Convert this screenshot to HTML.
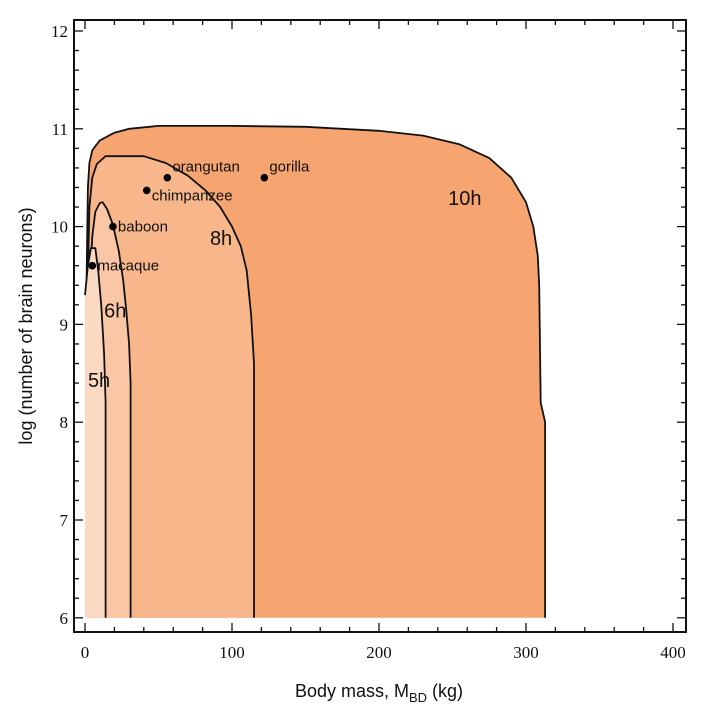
<!DOCTYPE html>
<html><head><meta charset="utf-8">
<style>
html,body{margin:0;padding:0;background:#fff;}
svg{display:block;}
.tick{font-family:"Liberation Serif",serif;font-size:17px;fill:#111;}
.lbl{font-family:"Liberation Sans",sans-serif;font-size:15px;fill:#111;}
.hl{font-family:"Liberation Sans",sans-serif;font-size:20px;fill:#111;}
.ax{font-family:"Liberation Sans",sans-serif;font-size:18px;fill:#111;}
</style></head>
<body>
<svg id="chart" width="720" height="720"></svg>
<script>
const xTicks=[0,100,200,300,400];
const yTicks=[6,7,8,9,10,11,12];
const regionNames=["10h","8h","6h","5h"];
const region10h=[[1,6],[1,9.4],[2,10.4],[3,10.65],[5,10.78],[10,10.88],[20,10.96],[30,11.0],[50,11.03],[100,11.03],[150,11.02],[200,10.98],[230,10.93],[255,10.84],[275,10.7],[290,10.5],[300,10.25],[305,10.0],[308,9.7],[309,9.4],[310,8.2],[313,8.0],[313,6]];
const region8h=[[2,6],[2,9.5],[3,10.2],[5,10.5],[8,10.64],[14,10.72],[40,10.72],[55,10.65],[70,10.52],[82,10.37],[92,10.2],[100,10.0],[106,9.8],[110,9.55],[113,9.1],[115,8.6],[115,6]];
const region6h=[[3,6],[3,9.3],[5,9.9],[7,10.15],[10,10.24],[12,10.25],[15,10.18],[19,10.02],[23,9.75],[26,9.45],[28,9.15],[30,8.8],[31,8.4],[31,6]];
const region5h=[[0,6],[0,9.3],[2,9.6],[4,9.78],[7,9.78],[9,9.55],[11,9.2],[13,8.7],[14,8.2],[14,6]];
const regionColors=["#f6a571","#f8b68b","#fac6a5","#fcd9c3"];
const regionLabelPos=[[247,10.22],[85,9.81],[13,9.07],[2,8.36]];
const species=["macaque","baboon","chimpanzee","orangutan","gorilla"];
const speciesMass=[5,19,42,56,122];
const speciesLogN=[9.6,10.0,10.37,10.5,10.5];

const X0=85,XS=1.47,Y12=31,YS=97.8;
const L=74,R=686,T=20,B=632;
const sx=v=>X0+v*XS, sy=v=>Y12+(12-v)*YS;
const svg=document.getElementById('chart');
const NS='http://www.w3.org/2000/svg';
function mk(tag,attrs,parent){const e=document.createElementNS(NS,tag);for(const k in attrs)e.setAttribute(k,attrs[k]);(parent||svg).appendChild(e);return e;}

const regions=[region10h,region8h,region6h,region5h];
regions.forEach((pts,i)=>{
  const d=pts.map((p,j)=>(j?'L':'M')+sx(p[0]).toFixed(1)+','+sy(p[1]).toFixed(1)).join(' ')+' Z';
  const f=mk('path',{d:d,fill:regionColors[i],stroke:'none'});
  
  
  const ol=pts.slice(1).map((p,j)=>(j?'L':'M')+sx(p[0]).toFixed(1)+','+sy(p[1]).toFixed(1)).join(' ');
  const o=mk('path',{d:ol,fill:'none',stroke:'#111','stroke-width':1.8,'stroke-linejoin':'round'});
  
  
});
regionNames.forEach((n,i)=>{
  const t=mk('text',{x:sx(regionLabelPos[i][0]),y:sy(regionLabelPos[i][1]),class:'hl'});
  t.textContent=n;
  
  
});
species.forEach((s,i)=>{
  const c=mk('circle',{cx:sx(speciesMass[i]),cy:sy(speciesLogN[i]),r:3.8,fill:'#000'});
  
  
  let dx=5,dy=0;
  if(s==='orangutan')dy=-6;
  if(s==='gorilla'){dy=-6;}
  if(s==='chimpanzee')dy=10;
  if(s==='baboon'||s==='macaque')dy=5;
  const t=mk('text',{x:sx(speciesMass[i])+dx,y:sy(speciesLogN[i])+dy,class:'lbl'});
  t.textContent=s;
  
  
});
const fr=mk('rect',{x:L,y:T,width:R-L,height:B-T,fill:'none',stroke:'#111','stroke-width':2});


for(let v=0;v<=400;v+=20){
  const maj=v%100===0,len=maj?9:5;
  mk('line',{x1:sx(v),x2:sx(v),y1:B,y2:B-len,stroke:'#111','stroke-width':1.3});
  mk('line',{x1:sx(v),x2:sx(v),y1:T,y2:T+len,stroke:'#111','stroke-width':1.3});
}
xTicks.forEach(v=>{
  const t=mk('text',{x:sx(v),y:B+26,class:'tick','text-anchor':'middle'});
  t.textContent=v;
  
  
});
for(let k=0;k<=30;k++){
  const v=6+k*0.2;const maj=k%5===0,len=maj?9:5;
  mk('line',{x1:L,x2:L+len,y1:sy(v),y2:sy(v),stroke:'#111','stroke-width':1.3});
  mk('line',{x1:R,x2:R-len,y1:sy(v),y2:sy(v),stroke:'#111','stroke-width':1.3});
}
yTicks.forEach(v=>{
  const t=mk('text',{x:L-6,y:sy(v)+6,class:'tick','text-anchor':'end'});
  t.textContent=v;
  
  
});
</script>
<svg width="720" height="720" style="position:absolute;left:0;top:0;pointer-events:none">
<text x="379" y="697" class="ax" text-anchor="middle">Body mass, M<tspan font-size="13" dy="5">BD</tspan><tspan dy="-5"> (kg)</tspan></text>
<text transform="translate(32,326) rotate(-90)" class="ax" text-anchor="middle">log (number of brain neurons)</text>
</svg>
</body></html>
